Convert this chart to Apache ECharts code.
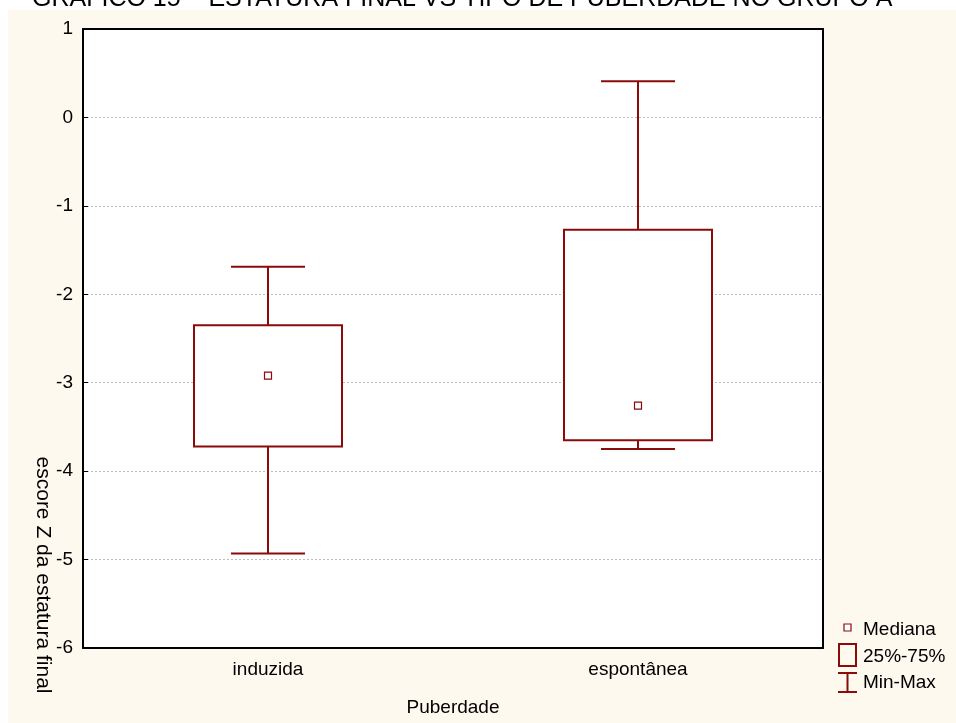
<!DOCTYPE html>
<html>
<head>
<meta charset="utf-8">
<script src="https://cdn.jsdelivr.net/npm/echarts@6/dist/echarts.min.js"></script>
<style>
html,body{margin:0;padding:0;background:#ffffff;}
#chart{width:956px;height:723px;}
</style>
</head>
<body>
<div id="chart"></div>
<script>
var categories = ['induzida', 'espontânea'];
var minValues = [-4.93, -3.75];
var q1Values = [-3.72, -3.65];
var medianValues = [-2.92, -3.26];
var q3Values = [-2.35, -1.27];
var maxValues = [-1.69, 0.41];
var yTicks = [-6, -5, -4, -3, -2, -1, 0, 1];

var RED = '#8B0A0A';
var FONT = '"Liberation Sans", Arial, sans-serif';

var boxData = categories.map(function (c, i) {
  return [i, minValues[i], q1Values[i], medianValues[i], q3Values[i], maxValues[i]];
});

var chart = echarts.init(document.getElementById('chart'));
chart.setOption({
  backgroundColor: 'transparent',
  animation: false,
  graphic: [
    { type: 'rect', z: -10, shape: { x: 8, y: 10, width: 948, height: 713 }, style: { fill: '#FEF9EF' } },
    { type: 'rect', z: -9, shape: { x: 83, y: 29, width: 740, height: 619 }, style: { fill: '#ffffff' } },
    { type: 'text', x: 32, y: -1, style: { text: 'GRÁFICO 15 – ESTATURA FINAL VS TIPO DE PUBERDADE NO GRUPO A', font: '25px ' + FONT, fill: '#000', verticalAlign: 'middle' } },
    { type: 'text', x: 43, y: 575, rotation: -Math.PI / 2, style: { text: 'escore Z da estatura final', font: '21px ' + FONT, fill: '#000', align: 'center', verticalAlign: 'middle' } },
    // legend
    { type: 'rect', shape: { x: 844, y: 624, width: 7, height: 7 }, style: { fill: '#fff', stroke: RED, lineWidth: 1.2 } },
    { type: 'text', x: 863, y: 630, style: { text: 'Mediana', font: '19px ' + FONT, fill: '#000', verticalAlign: 'middle' } },
    { type: 'rect', shape: { x: 839, y: 644, width: 17, height: 22 }, style: { fill: 'none', stroke: RED, lineWidth: 2 } },
    { type: 'text', x: 863, y: 657, style: { text: '25%-75%', font: '19px ' + FONT, fill: '#000', verticalAlign: 'middle' } },
    { type: 'polyline', shape: { points: [[838, 673], [857, 673]] }, style: { stroke: RED, lineWidth: 2 } },
    { type: 'polyline', shape: { points: [[847.5, 673], [847.5, 692]] }, style: { stroke: RED, lineWidth: 2 } },
    { type: 'polyline', shape: { points: [[838, 692], [857, 692]] }, style: { stroke: RED, lineWidth: 2 } },
    { type: 'text', x: 863, y: 683, style: { text: 'Min-Max', font: '19px ' + FONT, fill: '#000', verticalAlign: 'middle' } }
  ],
  grid: { left: 83, top: 29, right: 133, bottom: 75, show: false },
  xAxis: [{
    type: 'category',
    data: categories,
    boundaryGap: true,
    name: 'Puberdade',
    nameLocation: 'middle',
    nameGap: 50,
    nameTextStyle: { fontFamily: FONT, fontSize: 19, color: '#000' },
    axisLine: { onZero: false, lineStyle: { color: '#000', width: 2 } },
    axisTick: { inside: true, alignWithLabel: true, length: 6, lineStyle: { color: '#000', width: 1.5 } },
    axisLabel: { fontFamily: FONT, fontSize: 19, color: '#000', margin: 12 },
    splitLine: { show: false }
  }, {
    type: 'category',
    data: categories,
    position: 'top',
    boundaryGap: true,
    axisLine: { onZero: false, lineStyle: { color: '#000', width: 2 } },
    axisTick: { inside: true, alignWithLabel: true, length: 6, lineStyle: { color: '#000', width: 1.5 } },
    axisLabel: { show: false }
  }],
  yAxis: [{
    type: 'value',
    min: -6, max: 1, interval: 1,
    axisLine: { show: true, onZero: false, lineStyle: { color: '#000', width: 2 } },
    axisTick: { show: true, inside: true, length: 5, lineStyle: { color: '#000' } },
    axisLabel: { fontFamily: FONT, fontSize: 19, color: '#000', margin: 10,
      formatter: function (v) { return yTicks.indexOf(v) >= 0 ? String(v) : ''; } },
    splitLine: { show: true, lineStyle: { color: '#bbbbbb', type: [2, 2], width: 1 } }
  }, {
    type: 'value',
    position: 'right',
    min: -6, max: 1, interval: 1,
    axisLine: { show: true, onZero: false, lineStyle: { color: '#000', width: 2 } },
    axisTick: { show: false },
    axisLabel: { show: false },
    splitLine: { show: false }
  }],
  series: [{
    type: 'custom',
    data: boxData,
    encode: { x: 0, y: [1, 2, 3, 4, 5] },
    renderItem: function (params, api) {
      var idx = api.value(0);
      var band = api.size([1, 0])[0];
      var bw = band * 0.4;
      var cw = bw * 0.5;
      var pMin = api.coord([idx, api.value(1)]);
      var pQ1 = api.coord([idx, api.value(2)]);
      var pMed = api.coord([idx, api.value(3)]);
      var pQ3 = api.coord([idx, api.value(4)]);
      var pMax = api.coord([idx, api.value(5)]);
      var x = pMin[0];
      var ls = { stroke: RED, lineWidth: 2, fill: null };
      return {
        type: 'group',
        children: [
          { type: 'line', shape: { x1: x, y1: pMax[1], x2: x, y2: pQ3[1] }, style: ls },
          { type: 'line', shape: { x1: x - cw / 2, y1: pMax[1], x2: x + cw / 2, y2: pMax[1] }, style: ls },
          { type: 'line', shape: { x1: x, y1: pQ1[1], x2: x, y2: pMin[1] }, style: ls },
          { type: 'line', shape: { x1: x - cw / 2, y1: pMin[1], x2: x + cw / 2, y2: pMin[1] }, style: ls },
          { type: 'rect', shape: { x: x - bw / 2, y: pQ3[1], width: bw, height: pQ1[1] - pQ3[1] }, style: { stroke: RED, lineWidth: 2, fill: '#fff' } },
          { type: 'rect', shape: { x: x - 3.5, y: pMed[1] - 3.5, width: 7, height: 7 }, style: { stroke: RED, lineWidth: 1.2, fill: '#fff' } }
        ]
      };
    }
  }]
});
</script>
</body>
</html>
